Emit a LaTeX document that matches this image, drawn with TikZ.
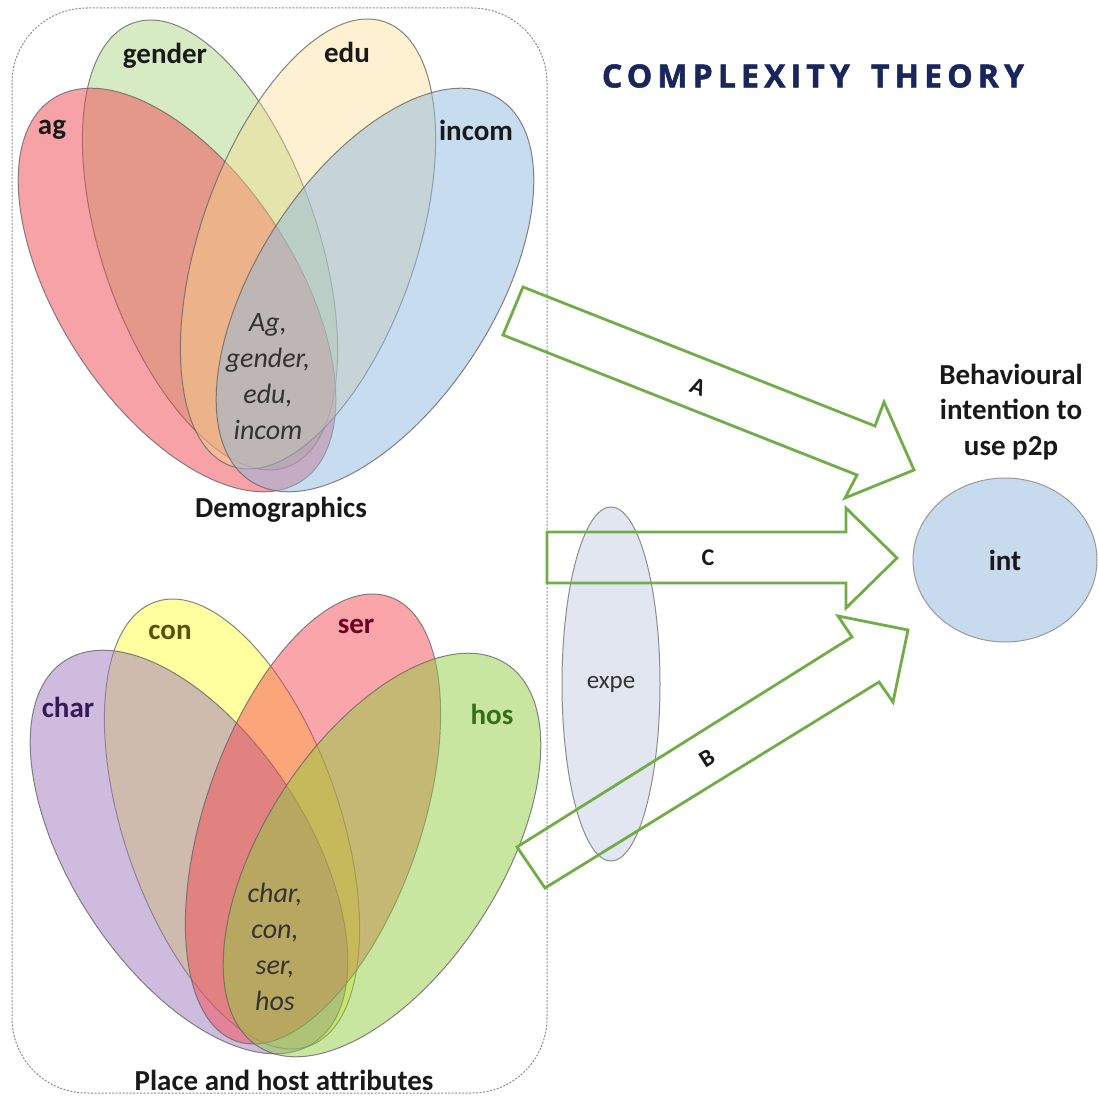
\documentclass[tikz,border=0pt]{standalone}
\usepackage{fontspec}
\setmainfont{Carlito}
\newfontfamily\titlefont[LetterSpace=16, BoldFeatures={FakeBold=1.6}]{Open Sans}
\usetikzlibrary{shapes.geometric}
\definecolor{cAg}{RGB}{240,70,80}
\definecolor{cGender}{RGB}{175,215,135}
\definecolor{cEdu}{RGB}{250,220,140}
\definecolor{cIncom}{RGB}{145,185,225}
\definecolor{cChar}{RGB}{160,120,190}
\definecolor{cCon}{RGB}{255,255,65}
\definecolor{cSer}{RGB}{245,75,85}
\definecolor{cHos}{RGB}{145,205,65}
\definecolor{arrowgreen}{RGB}{112,173,71}
\definecolor{intblue}{RGB}{200,218,238}
\definecolor{expefill}{RGB}{226,230,240}
\definecolor{titlenavy}{RGB}{24,38,92}
\definecolor{txtdark}{RGB}{25,25,25}
\definecolor{conTxt}{RGB}{85,85,0}
\definecolor{serTxt}{RGB}{110,0,30}
\definecolor{charTxt}{RGB}{55,25,90}
\definecolor{hosTxt}{RGB}{55,110,25}
\tikzset{
  venn/.style={draw=black!60, draw opacity=0.8, line width=1pt},
  lbl/.style={font=\fontsize{29}{35}\selectfont\bfseries, text=txtdark, inner sep=0pt},
  ctr/.style={font=\fontsize{28}{36}\selectfont\itshape, text=black!80, align=center, inner sep=0pt},
  arrlbl/.style={font=\fontsize{24}{28}\selectfont\bfseries, text=txtdark, inner sep=0pt},
  blockarrow/.style={draw=arrowgreen, line width=2.8pt, line join=miter},
  boxdash/.style={draw=black!45, line width=1pt, dash pattern=on 2pt off 1.5pt},
}
\begin{document}
\begin{tikzpicture}[x=1pt,y=-1pt]
\useasboundingbox (0,0) rectangle (1098,1097);
% dashed frame
\draw[boxdash, rounded corners=75] (12,8) rectangle (547,1093);

% ---- top Venn (Demographics)
\draw[venn, fill=cGender, fill opacity=.5, rotate around={-71:(210,245)}] (210,245) ellipse [x radius=235, y radius=108];
\draw[venn, fill=cAg, fill opacity=.5, rotate around={-57:(177,290)}] (177,290) ellipse [x radius=228, y radius=118];
\draw[venn, fill=cEdu, fill opacity=.4, rotate around={71:(308,244)}] (308,244) ellipse [x radius=235, y radius=108];
\draw[venn, fill=cIncom, fill opacity=.5, rotate around={57:(375,290)}] (375,290) ellipse [x radius=228, y radius=118];

\node[lbl] (lgender) at (165,56) {gender};
\node[lbl] (ledu) at (347,52) {edu};
\node[lbl] (lag) at (52,130) {ag};
\node[lbl] (lincom) at (476,130) {incom};
\node[ctr] (ctop) at (268,377) {Ag,\\gender,\\edu,\\incom};
\node[lbl] (demo) at (281,510) {Demographics};

% ---- bottom Venn (Place and host attributes)
\draw[venn, fill=cCon, fill opacity=.5, rotate around={-71:(232,824)}] (232,824) ellipse [x radius=235, y radius=108];
\draw[venn, fill=cChar, fill opacity=.5, rotate around={-57:(189,852)}] (189,852) ellipse [x radius=228, y radius=118];
\draw[venn, fill=cSer, fill opacity=.5, rotate around={71:(313,819)}] (313,819) ellipse [x radius=235, y radius=108];
\draw[venn, fill=cHos, fill opacity=.5, rotate around={57:(382,855)}] (382,855) ellipse [x radius=228, y radius=118];

\node[lbl, text=conTxt] (lcon) at (170,632) {con};
\node[lbl, text=serTxt] (lser) at (356,626) {ser};
\node[lbl, text=charTxt] (lchar) at (68,707) {char};
\node[lbl, text=hosTxt] (lhos) at (492,714) {hos};
\node[ctr] (cbot) at (275,947) {char,\\con,\\ser,\\hos};
\node[lbl] (place) at (284,1080) {Place and host attributes};

% ---- title
\node[font=\fontsize{32}{38}\selectfont\titlefont\bfseries, text=titlenavy, inner sep=0pt] (title) at (813,76) {COMPLEXITY\hspace{21pt}THEORY};

% ---- expe and int
\node[ellipse, draw=black!45, line width=1pt, fill=expefill, minimum width=98pt, minimum height=354pt, inner sep=0pt,
      font=\fontsize{25}{30}\selectfont, text=black!80] (expe) at (611,684) {expe};
\node[ellipse, draw=black!40, line width=1pt, fill=intblue, minimum width=184pt, minimum height=164pt, inner sep=0pt,
      font=\fontsize{29}{35}\selectfont\bfseries, text=txtdark] (int) at (1005,560) {int};
\node[lbl, align=center, font=\fontsize{29}{35.5}\selectfont\bfseries] (beh) at (1011,412) {Behavioural\\intention to\\use p2p};

% ---- block arrows
\draw[blockarrow] (523,287) -- (875,426) -- (884,402) -- (914,470) -- (845,498) -- (857,475) -- (503,335) -- cycle;
\draw[blockarrow] (547,532) -- (846,532) -- (846,508) -- (897,558) -- (846,608) -- (846,583) -- (547,583) -- cycle;
\draw[blockarrow] (517,847) -- (852,637) -- (838,616) -- (908,630) -- (893,702) -- (879,682) -- (545,888) -- cycle;
\node[arrlbl, rotate=-21.5] (la) at (698,387) {A};
\node[arrlbl] (lc) at (708,558) {C};
\node[arrlbl, rotate=32] (lb) at (707,758) {B};
\end{tikzpicture}
\end{document}
